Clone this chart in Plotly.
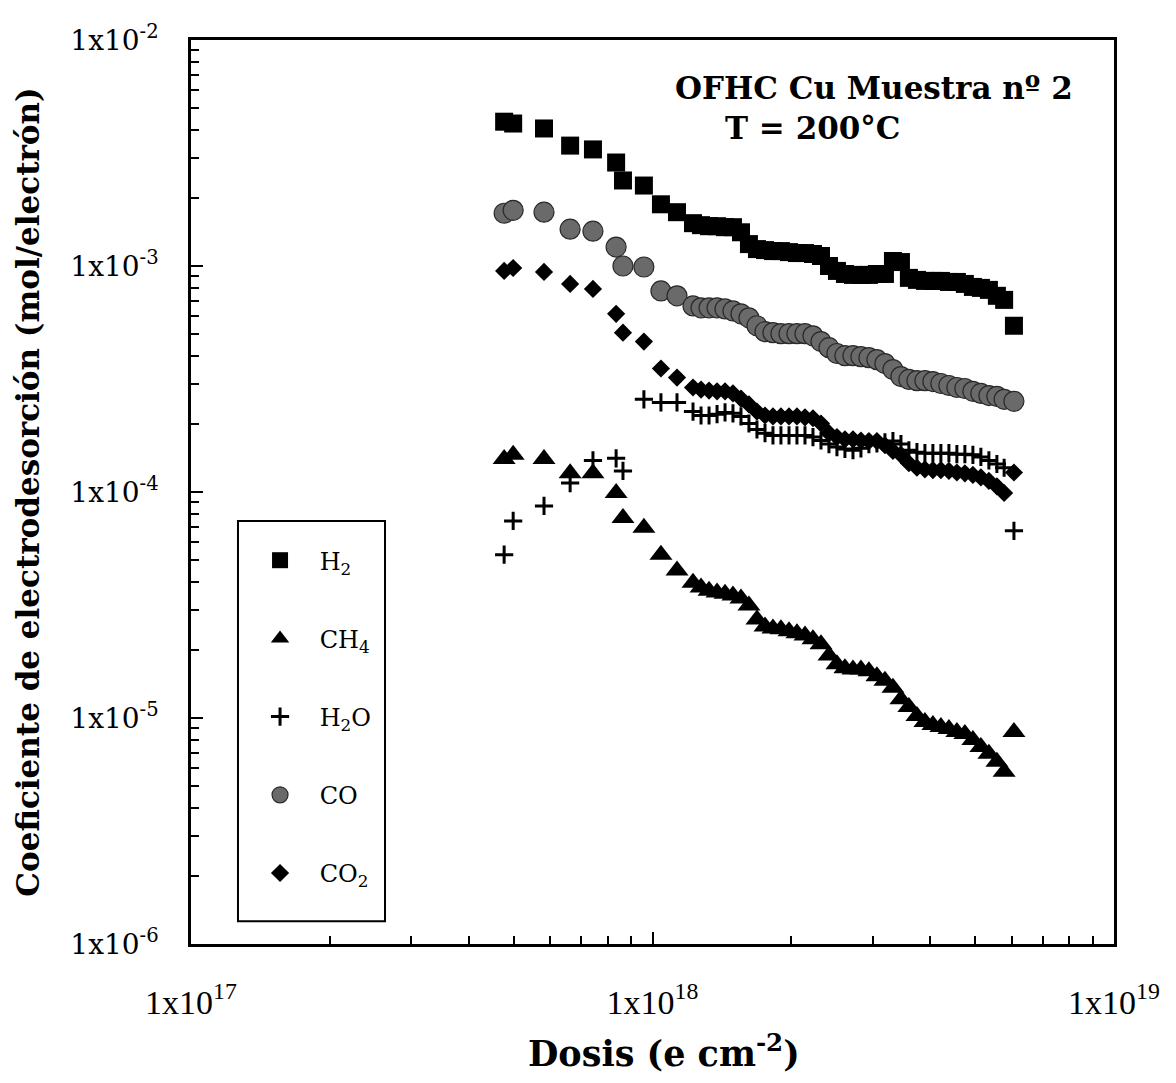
import plotly.graph_objects as go

# Dose (e cm^-2), shared by all gases
dose = [4.77e17, 4.99e17, 5.82e17, 6.63e17, 7.43e17, 8.34e17, 8.63e17, 9.58e17, 1.043e18, 1.13e18, 1.224e18,
        1.274e18, 1.326e18, 1.380e18, 1.436e18, 1.494e18, 1.555e18, 1.618e18, 1.684e18, 1.753e18, 1.824e18,
        1.898e18, 1.976e18, 2.056e18, 2.140e18, 2.227e18, 2.318e18, 2.412e18, 2.510e18, 2.612e18, 2.719e18,
        2.829e18, 2.944e18, 3.064e18, 3.189e18, 3.319e18, 3.454e18, 3.594e18, 3.741e18, 3.893e18, 4.051e18,
        4.216e18, 4.388e18, 4.566e18, 4.752e18, 4.946e18, 5.147e18, 5.357e18, 5.575e18, 5.78e18, 6.07e18]

h2 = [4.35e-3, 4.27e-3, 4.06e-3, 3.41e-3, 3.28e-3, 2.87e-3, 2.39e-3, 2.27e-3, 1.875e-3, 1.73e-3, 1.547e-3,
      1.516e-3, 1.50e-3, 1.50e-3, 1.485e-3, 1.485e-3, 1.41e-3, 1.25e-3, 1.188e-3, 1.176e-3, 1.164e-3,
      1.164e-3, 1.152e-3, 1.141e-3, 1.141e-3, 1.13e-3, 1.107e-3, 1.0e-3, 9.51e-4, 9.22e-4, 9.13e-4,
      9.13e-4, 9.13e-4, 9.22e-4, 9.22e-4, 1.052e-3, 1.041e-3, 8.86e-4, 8.68e-4, 8.59e-4, 8.59e-4,
      8.59e-4, 8.50e-4, 8.50e-4, 8.33e-4, 8.08e-4, 8.0e-4, 7.84e-4, 7.38e-4, 7.08e-4, 5.44e-4]

ch4 = [1.40e-4, 1.46e-4, 1.40e-4, 1.21e-4, 1.21e-4, 9.90e-5, 7.68e-5, 6.94e-5, 5.28e-5, 4.49e-5, 3.97e-5,
       3.78e-5, 3.66e-5, 3.59e-5, 3.55e-5, 3.48e-5, 3.38e-5, 3.15e-5, 2.73e-5, 2.54e-5, 2.49e-5,
       2.47e-5, 2.42e-5, 2.37e-5, 2.32e-5, 2.23e-5, 2.12e-5, 1.89e-5, 1.73e-5, 1.66e-5, 1.64e-5,
       1.64e-5, 1.61e-5, 1.53e-5, 1.46e-5, 1.36e-5, 1.21e-5, 1.12e-5, 1.02e-5, 9.60e-6, 9.31e-6,
       9.13e-6, 8.94e-6, 8.68e-6, 8.50e-6, 8.0e-6, 7.45e-6, 6.94e-6, 6.40e-6, 5.78e-6, 8.68e-6]

h2o = [5.28e-5, 7.45e-5, 8.68e-5, 1.095e-4, 1.38e-4, 1.41e-4, 1.24e-4, 2.57e-4, 2.49e-4, 2.49e-4, 2.27e-4,
       2.18e-4, 2.18e-4, 2.21e-4, 2.25e-4, 2.23e-4, 2.16e-4, 2.01e-4, 1.89e-4, 1.82e-4, 1.78e-4,
       1.78e-4, 1.78e-4, 1.78e-4, 1.78e-4, 1.75e-4, 1.69e-4, 1.63e-4, 1.58e-4, 1.55e-4, 1.53e-4,
       1.56e-4, 1.63e-4, 1.64e-4, 1.66e-4, 1.68e-4, 1.63e-4, 1.53e-4, 1.50e-4, 1.485e-4, 1.485e-4,
       1.485e-4, 1.485e-4, 1.47e-4, 1.47e-4, 1.46e-4, 1.43e-4, 1.38e-4, 1.33e-4, 1.28e-4, 6.73e-5]

co = [1.712e-3, 1.764e-3, 1.73e-3, 1.455e-3, 1.426e-3, 1.213e-3, 1.0e-3, 9.90e-4, 7.76e-4, 7.38e-4, 6.66e-4,
      6.53e-4, 6.53e-4, 6.53e-4, 6.46e-4, 6.33e-4, 6.14e-4, 5.90e-4, 5.44e-4, 5.12e-4, 5.07e-4,
      5.02e-4, 5.02e-4, 5.02e-4, 5.02e-4, 4.91e-4, 4.63e-4, 4.35e-4, 4.10e-4, 4.01e-4, 4.01e-4,
      3.97e-4, 3.93e-4, 3.85e-4, 3.70e-4, 3.48e-4, 3.24e-4, 3.15e-4, 3.11e-4, 3.11e-4, 3.08e-4,
      3.02e-4, 2.96e-4, 2.90e-4, 2.87e-4, 2.79e-4, 2.73e-4, 2.67e-4, 2.65e-4, 2.57e-4, 2.52e-4]

co2 = [9.51e-4, 9.80e-4, 9.41e-4, 8.33e-4, 7.92e-4, 6.14e-4, 5.07e-4, 4.63e-4, 3.52e-4, 3.21e-4, 2.90e-4,
       2.84e-4, 2.81e-4, 2.79e-4, 2.79e-4, 2.73e-4, 2.59e-4, 2.44e-4, 2.27e-4, 2.18e-4, 2.16e-4,
       2.16e-4, 2.16e-4, 2.16e-4, 2.14e-4, 2.12e-4, 2.01e-4, 1.82e-4, 1.75e-4, 1.71e-4, 1.71e-4,
       1.69e-4, 1.68e-4, 1.68e-4, 1.61e-4, 1.52e-4, 1.46e-4, 1.34e-4, 1.28e-4, 1.26e-4, 1.25e-4,
       1.25e-4, 1.24e-4, 1.22e-4, 1.21e-4, 1.19e-4, 1.16e-4, 1.12e-4, 1.06e-4, 9.90e-5, 1.22e-4]

series_names = ["H<sub>2</sub>", "CH<sub>4</sub>", "H<sub>2</sub>O", "CO", "CO<sub>2</sub>"]
x_tick_vals = [1e17, 1e18, 1e19]
x_tick_text = ["1x10<sup>17</sup>", "1x10<sup>18</sup>", "1x10<sup>19</sup>"]
y_tick_vals = [1e-6, 1e-5, 1e-4, 1e-3, 1e-2]
y_tick_text = ["1x10<sup>-6</sup>", "1x10<sup>-5</sup>", "1x10<sup>-4</sup>", "1x10<sup>-3</sup>", "1x10<sup>-2</sup>"]

SERIF = "DejaVu Serif"
TIMES = "Liberation Serif"

styles = [
    dict(symbol="square", size=18, color="black", line=dict(width=0)),
    dict(symbol="triangle-up", size=20, color="black", line=dict(width=0)),
    dict(symbol="cross-thin", size=13, color="black", line=dict(width=3, color="black")),
    dict(symbol="circle", size=20, color="#6a6a6a", line=dict(width=1.2, color="#2a2a2a")),
    dict(symbol="diamond", size=14, color="black", line=dict(width=0)),
]
ys = [h2, ch4, h2o, co, co2]
pad = "\u00a0\u2002"

fig = go.Figure()
draw_order = [0, 3, 2, 4, 1]
for i in draw_order:
    fig.add_trace(go.Scatter(
        x=dose, y=ys[i], mode="markers", name=pad + series_names[i],
        marker=styles[i], legendgroup=f"g{i}", legendrank=i + 1,
    ))

minor_x = [m * 10 ** e for e in (17, 18) for m in range(2, 10)]
minor_y = [m * 10 ** e for e in (-6, -5, -4, -3) for m in range(2, 10)]

axis_common = dict(
    type="log", showline=True, linecolor="black", linewidth=2.5, mirror=True,
    ticks="inside", ticklen=12, tickwidth=2, tickcolor="black",
    showgrid=False, zeroline=False, tickmode="array",
)

fig.update_xaxes(
    **axis_common, range=[17, 19], tickvals=x_tick_vals, ticktext=x_tick_text,
    tickfont=dict(family=TIMES, size=34, color="black"), ticklabelstandoff=26,
    minor=dict(tickmode="array", tickvals=minor_x, ticks="inside", ticklen=8, tickwidth=1.5, tickcolor="black"),
)
fig.update_yaxes(
    **axis_common, range=[-6, -2], tickvals=y_tick_vals, ticktext=y_tick_text,
    tickfont=dict(family=SERIF, size=28, color="black"), ticklabelstandoff=24,
    minor=dict(tickmode="array", tickvals=minor_y, ticks="inside", ticklen=8, tickwidth=1.5, tickcolor="black"),
    title=dict(text="<b>Coeficiente de electrodesorción (mol/electrón)</b>",
               font=dict(family=SERIF, size=31, color="black"), standoff=22),
)

# x-axis title (placed as paper annotation so it can sit slightly right of centre like the original)
fig.add_annotation(text="<b>Dosis (e cm<sup>-2</sup>)</b>", xref="paper", yref="paper",
                   x=0.513, y=-0.118, xanchor="center", yanchor="middle", showarrow=False,
                   font=dict(family=SERIF, size=35, color="black"))

fig.add_annotation(text="<b>OFHC Cu Muestra nº 2</b>", xref="paper", yref="paper",
                   x=0.740, y=0.947, xanchor="center", yanchor="middle", showarrow=False,
                   font=dict(family=SERIF, size=31, color="black"))
fig.add_annotation(text="<b>T = 200°C</b>", xref="paper", yref="paper",
                   x=0.674, y=0.903, xanchor="center", yanchor="middle", showarrow=False,
                   font=dict(family=SERIF, size=31, color="black"))

# legend frame
fig.add_shape(type="rect", xref="paper", yref="paper", x0=0.0509, x1=0.2102, y0=0.0253, y1=0.468,
              line=dict(color="black", width=2), fillcolor="rgba(0,0,0,0)")

fig.update_layout(
    width=1176, height=1083,
    margin=dict(l=183, r=70, t=28, b=147),
    paper_bgcolor="white", plot_bgcolor="white",
    showlegend=True,
    legend=dict(x=0.0748, y=0.449, xanchor="left", yanchor="top", bgcolor="rgba(0,0,0,0)",
                borderwidth=0, traceorder="grouped", tracegroupgap=44,
                font=dict(family=SERIF, size=24, color="black")),
)

fig.write_html("out.html")
